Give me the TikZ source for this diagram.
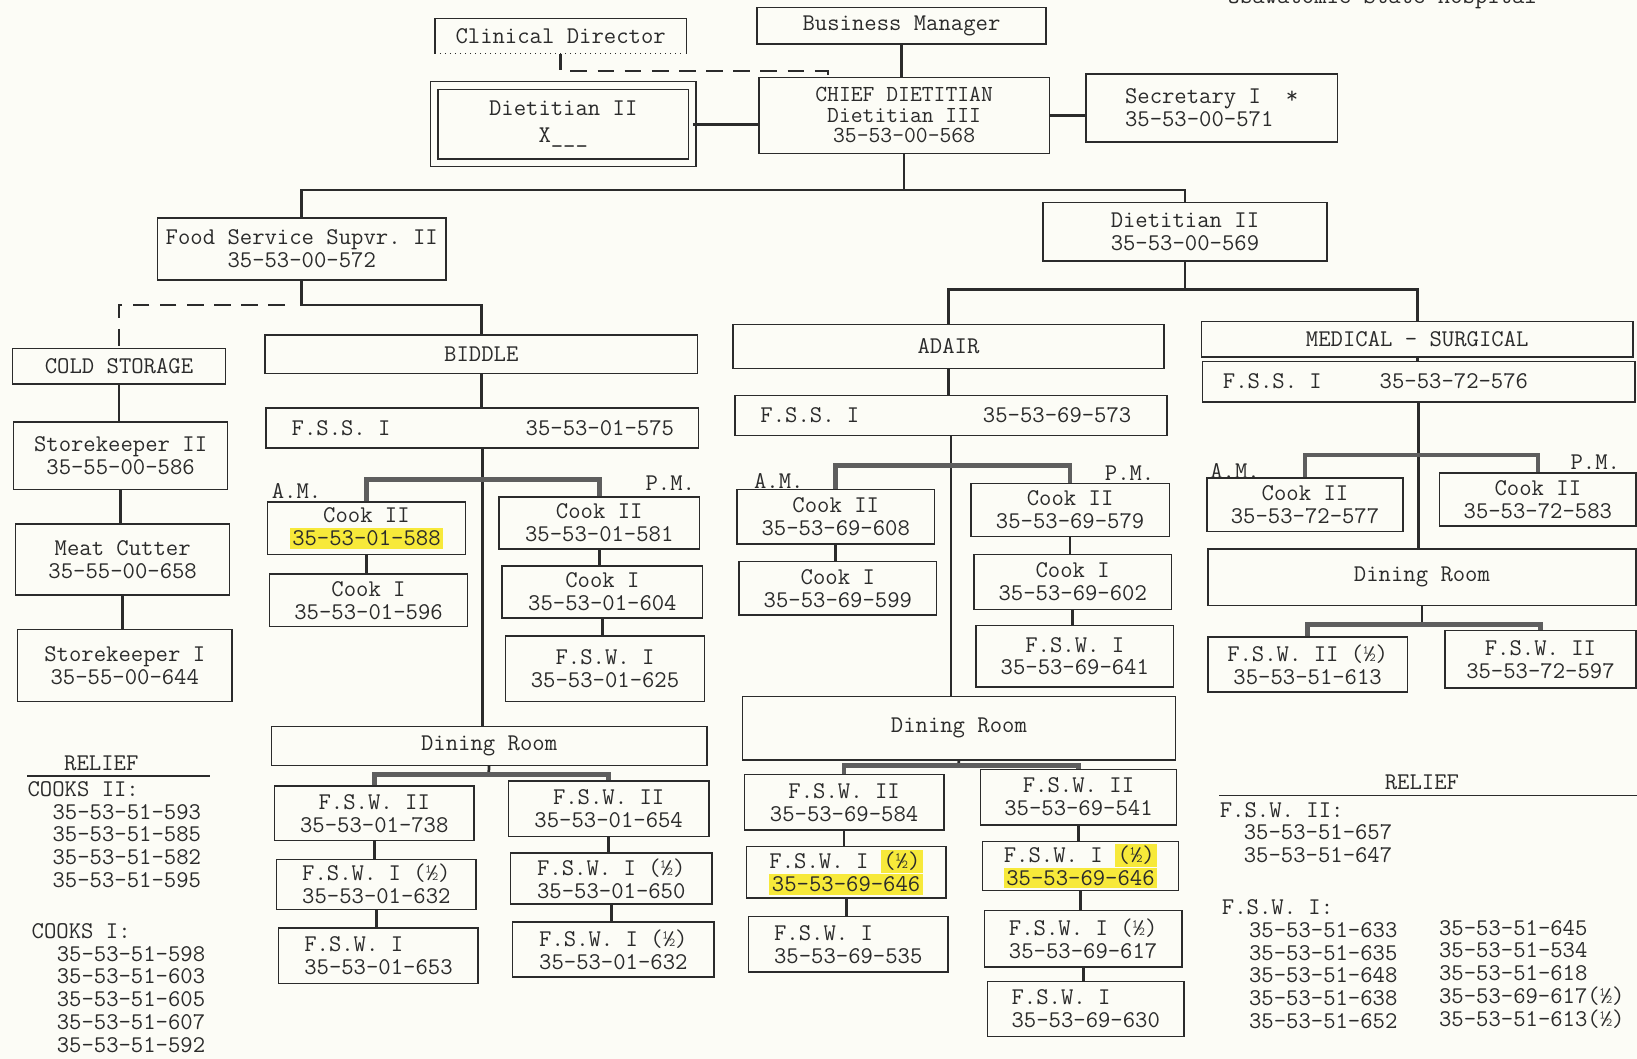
\documentclass[tikz,border=0pt]{standalone}
\usepackage{fontspec}
\usepackage{xcolor}
\usepackage{tikz}
\usetikzlibrary{positioning}
\definecolor{ink}{HTML}{2B2B2B}
\definecolor{inkgray}{HTML}{5E5E5E}
\definecolor{paper}{HTML}{FCFCF6}
\definecolor{hiyellow}{HTML}{F7E93A}
\newcommand{\hlite}[1]{{\setlength{\fboxsep}{1.2pt}\colorbox{hiyellow}{#1}}}
\frenchspacing

\begin{document}
\begin{tikzpicture}[x=0.5pt,y=-0.5pt,
  every node/.style={font=\ttfamily\fontsize{11.5}{11}\selectfont,text=ink},
  area/.style args={#1,#2,#3,#4}{minimum width={(#3-#1)*0.5pt},
    minimum height={(#4-#2)*0.5pt},at={({(#1+#3)/2},{(#2+#4)/2})}},
  box/.style={draw=ink,line width=.7pt,inner sep=0pt,align=center},
  link/.style={draw=ink,line width=1.3pt},
  bar/.style={draw=inkgray,line width=2.2pt},
  dashlink/.style={draw=ink,line width=1.3pt,dash pattern=on 8pt off 5pt},
  list/.style={align=left,anchor=north west,inner sep=0pt,
    font=\ttfamily\fontsize{11.5}{10.9}\selectfont}]
  \fill[paper] (0,0) rectangle (1568,1014);
  \useasboundingbox (0,0) rectangle (1568,1014);
  \node[anchor=base] (title) at (1324,3) {Osawatomie State Hospital};

  % top
  \node[inner sep=0pt,area={417,18,657,51}] (clin) {Clinical Director};
  \draw[ink,line width=.7pt] (clin.south west) |- (clin.north east) -- (clin.south east);
  \draw[ink,dotted] (clin.south west) -- (clin.south east);
  \node[box,area={725,7,1002,42}] (bman) {Business Manager};
  \node[box,area={727,74,1005,147},font=\ttfamily\fontsize{11}{9.8}\selectfont] (chief)
    {CHIEF DIETITIAN\\Dietitian III\\35-53-00-568};
  \node[box,double=paper,double distance=3pt,area={416,82,663,156}] (dxii) {Dietitian II\\[2pt]X\_\_\_};
  \node[box,align=left,area={1040,71,1281,136}] (secr) {Secretary I~~*\\35-53-00-571};
  \node[box,area={151,209,427,268}] (fsup) {Food Service Supvr. II\\35-53-00-572};
  \node[box,align=left,area={999,194,1271,250}] (dii) {Dietitian II\\35-53-00-569};

  \draw[link] (bman.south) -- (bman.south |- chief.north);
  \coordinate (jclin) at (793,68);
  \draw[dashlink] (clin.south) |- (jclin) -- (jclin |- chief.north);
  \draw[link] (dxii.east) -- (dxii.east -| chief.west);
  \draw[link] (chief.east) -- (chief.east -| secr.west);
  \coordinate (jtop) at (866,182);
  \draw[link] (chief.south) -- (jtop);
  \draw[link] (fsup.north) |- (jtop) -| (dii.north);

  % cold storage
  \node[box,area={12,334,216,368}] (cold) {COLD STORAGE};
  \node[box,area={13,404,218,469}] (skii) {Storekeeper II\\35-55-00-586};
  \node[box,area={15,502,220,570}] (meat) {Meat Cutter\\35-55-00-658};
  \node[box,area={17,603,222,672}] (ski) {Storekeeper I\\35-55-00-644};
  \draw[link] (cold.south) -- (cold.south |- skii.north);
  \draw[link] (skii.south) -- (skii.south |- meat.north);
  \draw[link] (meat.south) -- (meat.south |- ski.north);

  % biddle
  \node[box,area={254,321,668,358}] (bid) {BIDDLE};
  \node[box,area={255,391,669,429}] (bfss) {};
  \node[anchor=west] at ([xshift=9pt]bfss.west) {F.S.S. I};
  \node[anchor=east] at ([xshift=-8.5pt]bfss.east) {35-53-01-575};
  \node[box,area={256,481,446,531}] (bcka) {Cook II\\\hlite{35-53-01-588}};
  \node[box,area={258,550,448,600}] (bcia) {Cook I\\35-53-01-596};
  \node[box,area={478,476,670,526}] (bckp) {Cook II\\35-53-01-581};
  \node[box,area={481,542,673,592}] (bcip) {Cook I\\35-53-01-604};
  \node[box,area={484,609,675,672}] (bfwp) {F.S.W. I\\35-53-01-625};
  \node (bam) at (284,470) {A.M.};
  \node (bpm) at (642,463) {P.M.};
  \node[box,area={260,696,677,733}] (bdin) {Dining Room};
  \node[box,area={263,753,454,805}] (bfwiil) {F.S.W. II\\35-53-01-738};
  \node[box,area={487,748,679,801}] (bfwiir) {F.S.W. II\\35-53-01-654};
  \node[box,align=left,area={265,823,456,871}] (bfhal) {F.S.W. I (½)\\35-53-01-632};
  \node[box,align=left,area={489,817,682,866}] (bfhar) {F.S.W. I (½)\\35-53-01-650};
  \node[box,align=left,area={267,889,458,942}] (bfwil) {F.S.W. I\\35-53-01-653};
  \node[box,align=left,area={491,883,684,936}] (bfhbr) {F.S.W. I (½)\\35-53-01-632};

  \coordinate (jfs) at (289,292);
  \coordinate (jcold) at (273,292);
  \draw[link] (fsup.south) -- (jfs) -| (bid.north);
  \draw[dashlink] (jcold) -| (cold.north);
  \draw[link] (bid.south) -- (bid.south |- bfss.north);
  \draw[link] (bfss.south) -- (bfss.south |- bdin.north);
  \coordinate (jbamp) at (462,459);
  \draw[bar] (bcka.north) |- (jbamp) -| (bckp.north);
  \draw[link] (bcka.south) -- (bcka.south |- bcia.north);
  \draw[link] (bckp.south) -- (bckp.south |- bcip.north);
  \draw[link] (bcip.south) -- (bcip.south |- bfwp.north);
  \coordinate (jbdin) at (468,742);
  \draw[link] (bdin.south) -- (jbdin);
  \draw[bar] (bfwiil.north) |- (jbdin) -| (bfwiir.north);
  \draw[link] (bfwiil.south) -- (bfwiil.south |- bfhal.north);
  \draw[link] (bfhal.south) -- (bfhal.south |- bfwil.north);
  \draw[link] (bfwiir.south) -- (bfwiir.south |- bfhar.north);
  \draw[link] (bfhar.south) -- (bfhar.south |- bfhbr.north);

  % adair
  \node[box,area={702,311,1115,353}] (ada) {ADAIR};
  \node[box,area={704,379,1118,417}] (afss) {};
  \node[anchor=west] at ([xshift=9pt]afss.west) {F.S.S. I};
  \node[anchor=east] at ([xshift=-14pt]afss.east) {35-53-69-573};
  \node[box,area={706,469,895,521}] (acka) {Cook II\\35-53-69-608};
  \node[box,area={708,538,897,589}] (acia) {Cook I\\35-53-69-599};
  \node[box,area={930,463,1120,514}] (ackp) {Cook II\\35-53-69-579};
  \node[box,area={933,531,1122,584}] (acip) {Cook I\\35-53-69-602};
  \node[box,area={935,599,1124,658}] (afwp) {F.S.W. I\\35-53-69-641};
  \node (aam) at (746,461) {A.M.};
  \node (apm) at (1082,453) {P.M.};
  \node[box,area={711,667,1126,728}] (adin) {Dining Room};
  \node[box,area={713,742,904,795}] (afwiil) {F.S.W. II\\35-53-69-584};
  \node[box,area={939,737,1127,790}] (afwiir) {F.S.W. II\\35-53-69-541};
  \node[box,align=left,area={715,811,906,860}] (afhal) {F.S.W. I \hlite{(½)}\\\hlite{35-53-69-646}};
  \node[box,align=left,area={941,806,1129,853}] (afhar) {F.S.W. I \hlite{(½)}\\\hlite{35-53-69-646}};
  \node[box,align=left,area={717,878,908,931}] (afwil) {F.S.W. I\\35-53-69-535};
  \node[box,align=left,area={943,872,1132,926}] (afhbr) {F.S.W. I (½)\\35-53-69-617};
  \node[box,align=left,area={946,940,1134,993}] (afwir) {F.S.W. I\\35-53-69-630};

  \draw[link] (ada.south) -- (ada.south |- afss.north);
  \draw[link] (afss.south) -- (afss.south |- adin.north);
  \coordinate (jaamp) at (911,446);
  \draw[bar] (acka.north) |- (jaamp) -| (ackp.north);
  \draw[link] (acka.south) -- (acka.south |- acia.north);
  \draw[link] (ackp.south) -- (ackp.south |- acip.north);
  \draw[link] (acip.south) -- (acip.south |- afwp.north);
  \coordinate (jadin) at (918,733);
  \draw[link] (adin.south) -- (jadin);
  \draw[bar] (afwiil.north) |- (jadin) -| (afwiir.north);
  \draw[link] (afwiil.south) -- (afwiil.south |- afhal.north);
  \draw[link] (afhal.south) -- (afhal.south |- afwil.north);
  \draw[link] (afwiir.south) -- (afwiir.south |- afhar.north);
  \draw[link] (afhar.south) -- (afhar.south |- afhbr.north);
  \draw[link] (afhbr.south) -- (afhbr.south |- afwir.north);

  % medical - surgical
  \node[box,area={1151,308,1564,342}] (med) {MEDICAL - SURGICAL};
  \node[box,area={1152,346,1566,385}] (mfss) {};
  \node[anchor=west] at ([xshift=6.5pt]mfss.west) {F.S.S. I};
  \node[anchor=east] at ([xshift=-48pt]mfss.east) {35-53-72-576};
  \node[box,area={1156,458,1344,509}] (mcka) {Cook II\\35-53-72-577};
  \node[box,area={1379,453,1567,504}] (mckp) {Cook II\\35-53-72-583};
  \node (mam) at (1183,451) {A.M.};
  \node (mpm) at (1528,443) {P.M.};
  \node[box,area={1157,526,1567,580}] (mdin) {Dining Room};
  \node[box,area={1157,610,1348,663}] (mfwl) {F.S.W. II (½)\\35-53-51-613};
  \node[box,area={1384,604,1567,659}] (mfwr) {F.S.W. II\\35-53-72-597};

  \coordinate (jdii) at (1135,277);
  \draw[link] (dii.south) -- (jdii);
  \draw[link] (ada.north) |- (jdii) -| (med.north);
  \draw[link] (med.south) -- (med.south |- mfss.north);
  \draw[link] (mfss.south) -- (mfss.south |- mdin.north);
  \coordinate (jmamp) at (1359,436);
  \draw[bar] (mcka.north) |- (jmamp) -| (mckp.north);
  \coordinate (jmdin) at (1362,598);
  \draw[link] (mdin.south) -- (jmdin);
  \draw[bar] (mfwl.north) |- (jmdin) -| (mfwr.north);

  % relief lists
  \node[anchor=base] (rlfl) at (97,738) {RELIEF};
  \draw[ink,line width=.9pt] (26,743) -- (201,743);
  \node[list] (cooksii) at (26,748) {COOKS II:\\\hspace*{12pt}35-53-51-593\\\hspace*{12pt}35-53-51-585\\
    \hspace*{12pt}35-53-51-582\\\hspace*{12pt}35-53-51-595};
  \node[list] (cooksi) at (30,884) {COOKS I:\\\hspace*{12pt}35-53-51-598\\\hspace*{12pt}35-53-51-603\\
    \hspace*{12pt}35-53-51-605\\\hspace*{12pt}35-53-51-607\\\hspace*{12pt}35-53-51-592};

  \node[anchor=base] (rlfr) at (1362,756) {RELIEF};
  \draw[ink,line width=.9pt] (1168,762) -- (1568,762);
  \node[list] (fswii) at (1168,768) {F.S.W. II:\\\hspace*{11.5pt}35-53-51-657\\\hspace*{11.5pt}35-53-51-647};
  \node[list] (fswi) at (1170,861) {F.S.W. I:};
  \node[list] (fswia) at (1196,883) {35-53-51-633\\35-53-51-635\\35-53-51-648\\35-53-51-638\\35-53-51-652};
  \node[list] (fswib) at (1378,881) {35-53-51-645\\35-53-51-534\\35-53-51-618\\35-53-69-617(½)\\35-53-51-613(½)};
\end{tikzpicture}
\end{document}
